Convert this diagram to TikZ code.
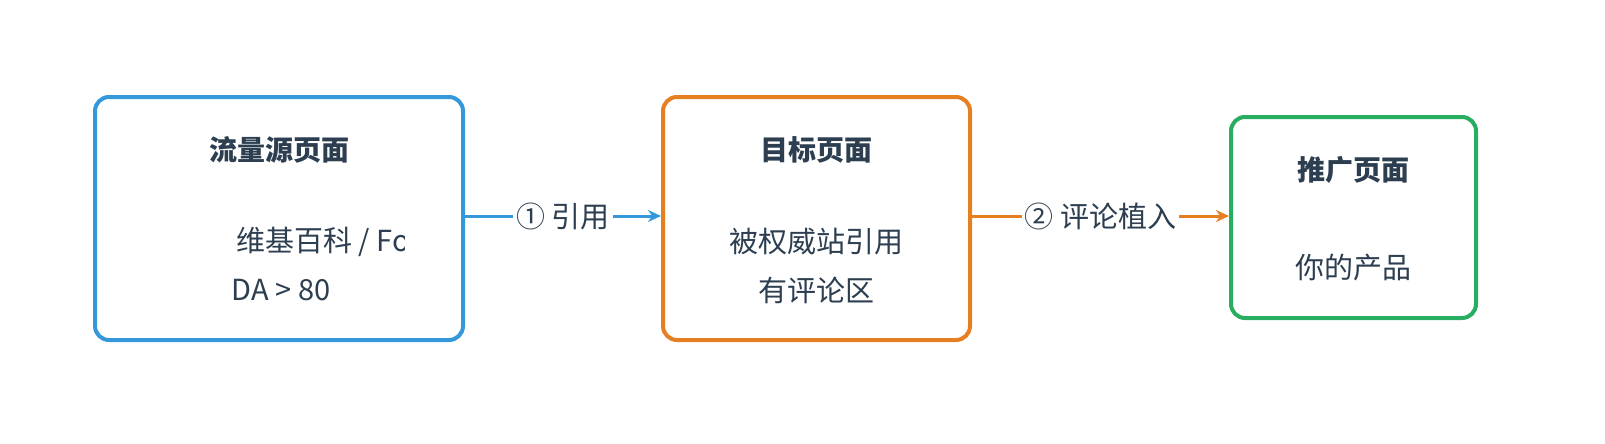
\documentclass[tikz,border=0pt]{standalone}
\usetikzlibrary{arrows.meta}
\usepackage{fontspec}
\setmainfont{Noto Sans CJK SC}
\definecolor{cblue}{HTML}{3498DB}
\definecolor{corange}{HTML}{E67E22}
\definecolor{cgreen}{HTML}{27AE60}
\definecolor{ctext}{HTML}{2C3E50}
\begin{document}
\begin{tikzpicture}[x=1pt,y=-1pt,
  box/.style={line width=4pt,rounded corners=14pt,fill=white},
  ttl/.style={text=ctext,font=\fontsize{28}{34}\selectfont\bfseries},
  bod/.style={text=ctext,font=\fontsize{29}{34}\selectfont},
  lbl/.style={text=ctext,font=\fontsize{29}{34}\selectfont,fill=white,inner sep=3pt},
  arr/.style={line width=3pt,-{Stealth[length=13pt,width=12pt]}}]
\useasboundingbox (0,0) rectangle (1605,444);
\draw[box,draw=cblue] (95,97) rectangle (463,340);
\draw[box,draw=corange] (663,97) rectangle (970,340);
\draw[box,draw=cgreen] (1231,117) rectangle (1476,318);
\coordinate (a1) at (465,216);
\coordinate (a2) at (661,216);
\coordinate (c1) at (972,216);
\coordinate (c2) at (1229,216);
\draw[arr,cblue] (a1) -- (a2) node[lbl,midway] (l1) {① 引用};
\draw[arr,corange] (c1) -- (c2) node[lbl,pos=0.5] (l2) {② 评论植入};
\node[ttl] (t1) at (279,150) {流量源页面};
\begin{scope}
\clip (100,200) rectangle (404,270);
\node[bod,anchor=west,inner sep=0pt] (d1) at (236,242) {维基百科 / Forbes};
\end{scope}
\node[bod] (e1) at (281,290) {DA > 80};
\node[ttl] (t2) at (816,150) {目标页面};
\node[bod] (d2) at (816,242) {被权威站引用};
\node[bod] (e2) at (816,290) {有评论区};
\node[ttl] (t3) at (1353,170) {推广页面};
\node[bod] (d3) at (1353,268) {你的产品};
\end{tikzpicture}
\end{document}
